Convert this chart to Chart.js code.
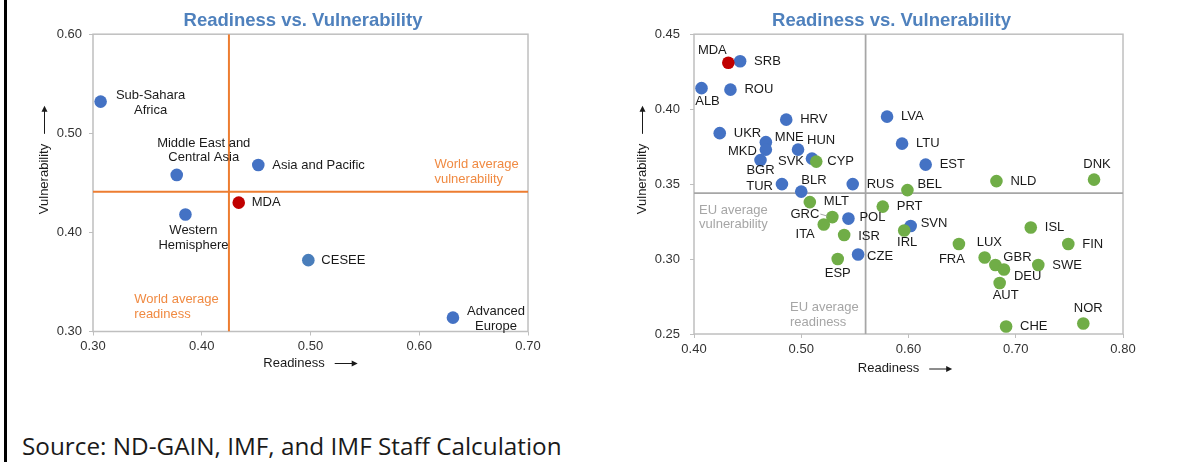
<!DOCTYPE html>
<html>
<head>
<meta charset="utf-8">
<script src="https://cdn.jsdelivr.net/npm/chart.js@4.4.0/dist/chart.umd.min.js"></script>
<style>
  body { margin: 0; background: #fff; }
  #page { position: relative; width: 1194px; height: 462px; overflow: hidden; }
  #rule { position: absolute; left: 4px; top: 0; width: 3px; height: 462px; background: #000; }
  #left-wrap { position: absolute; left: 6px; top: 0; }
  #right-wrap { position: absolute; left: 594px; top: 0; }
  #source { position: absolute; left: 22px; top: 429px; font: 24.3px "Open Sans", sans-serif; color: #1a1a1a; white-space: nowrap; }
</style>
</head>
<body>
<div id="page">
  <div id="rule"></div>
  <div id="left-wrap"><canvas id="left" width="594" height="380"></canvas></div>
  <div id="right-wrap"><canvas id="right" width="595" height="380"></canvas></div>
  <div id="source">Source: ND-GAIN, IMF, and IMF Staff Calculation</div>
</div>
<script>
// left chart: regions
const regionNames = ["Sub-Sahara Africa", "Middle East and Central Asia", "Asia and Pacific", "Western Hemisphere", "Advanced Europe"];
const regionReadiness = [0.307, 0.377, 0.452, 0.385, 0.631];
const regionVulnerability = [0.532, 0.458, 0.468, 0.418, 0.314];
const ceseeReadiness = [0.498];
const ceseeVulnerability = [0.372];
const mdaRegionReadiness = [0.434];
const mdaRegionVulnerability = [0.430];
const worldAvgReadiness = 0.425;
const worldAvgVulnerability = 0.441;
const leftXTicks = [0.30, 0.40, 0.50, 0.60, 0.70];
const leftYTicks = [0.30, 0.40, 0.50, 0.60];

// right chart: countries
const ceseeCodes = ["SRB", "ALB", "ROU", "HRV", "LVA", "UKR", "MNE", "MKD", "HUN", "LTU", "SVK", "BGR", "EST", "TUR", "RUS", "BLR", "POL", "SVN", "CZE"];
const ceseeCountryReadiness = [0.443, 0.407, 0.434, 0.486, 0.580, 0.424, 0.467, 0.467, 0.497, 0.594, 0.510, 0.462, 0.616, 0.482, 0.548, 0.500, 0.544, 0.602, 0.553];
const ceseeCountryVulnerability = [0.432, 0.414, 0.413, 0.393, 0.395, 0.384, 0.378, 0.373, 0.373, 0.377, 0.367, 0.366, 0.363, 0.350, 0.350, 0.345, 0.327, 0.322, 0.303];
const otherCodes = ["CYP", "DNK", "NLD", "BEL", "MLT", "PRT", "GRC", "ITA", "IRL", "ISL", "ISR", "FRA", "FIN", "LUX", "ESP", "GBR", "SWE", "DEU", "AUT", "NOR", "CHE"];
const otherReadiness = [0.514, 0.773, 0.682, 0.599, 0.508, 0.576, 0.529, 0.521, 0.596, 0.714, 0.540, 0.647, 0.749, 0.671, 0.534, 0.681, 0.721, 0.689, 0.685, 0.763, 0.691];
const otherVulnerability = [0.365, 0.353, 0.352, 0.346, 0.338, 0.335, 0.328, 0.323, 0.319, 0.321, 0.316, 0.310, 0.310, 0.301, 0.300, 0.296, 0.296, 0.293, 0.284, 0.257, 0.255];
const mdaReadiness = [0.432];
const mdaVulnerability = [0.431];
const euAvgReadiness = 0.560;
const euAvgVulnerability = 0.344;
const rightXTicks = [0.40, 0.50, 0.60, 0.70, 0.80];
const rightYTicks = [0.25, 0.30, 0.35, 0.40, 0.45];

const FONT = "'Liberation Sans', Arial, 'DejaVu Sans', sans-serif";
const BLUE = "#4472C4";
const GREEN = "#70AD47";
const RED = "#C00000";
const INK = "#1a1a1a";

const pts = (xs, ys) => xs.map((x, i) => ({ x: x, y: ys[i] }));

// plot frame around the chart area
const frame = {
  id: "frame",
  beforeDatasetsDraw(chart) {
    const { ctx, chartArea: a } = chart;
    ctx.save();
    ctx.strokeStyle = "#BFBFBF";
    ctx.lineWidth = 1.5;
    ctx.strokeRect(a.left, a.top, a.right - a.left, a.bottom - a.top);
    ctx.restore();
  }
};

// names next to the points
const pointLabels = {
  id: "pointLabels",
  afterDatasetsDraw(chart, args, opts) {
    const ctx = chart.ctx;
    ctx.save();
    ctx.font = "13px " + FONT;
    ctx.textBaseline = "middle";
    chart.data.datasets.forEach((ds, di) => {
      if (!ds.names) return;
      const meta = chart.getDatasetMeta(di);
      ds.names.forEach((name, i) => {
        const p = meta.data[i];
        const spot = opts.spots[name] || [14, 0, "left"];
        const lines = (opts.lines && opts.lines[name]) || [name];
        const lead = opts.leaders && opts.leaders[name];
        if (lead) {
          ctx.strokeStyle = "#A6A6A6";
          ctx.lineWidth = 1;
          ctx.beginPath();
          ctx.moveTo(p.x + lead[0], p.y + lead[1]);
          ctx.lineTo(p.x + lead[2], p.y + lead[3]);
          ctx.stroke();
        }
        ctx.fillStyle = INK;
        ctx.textAlign = spot[2] || "left";
        lines.forEach((line, k) => ctx.fillText(line, p.x + spot[0], p.y + spot[1] + k * 14.5));
      });
    });
    ctx.restore();
  }
};

// text followed by a long arrow, centred on (cx, cy) in the current frame
function arrowTitle(ctx, text, cx, cy, len) {
  const gap = 10;
  const tw = ctx.measureText(text).width;
  const x0 = cx - (tw + gap + len) / 2;
  ctx.textAlign = "left";
  ctx.fillText(text, x0, cy);
  const ax = x0 + tw + gap;
  const ay = cy + 0.5;
  ctx.beginPath();
  ctx.moveTo(ax, ay);
  ctx.lineTo(ax + len - 4, ay);
  ctx.stroke();
  ctx.beginPath();
  ctx.moveTo(ax + len, ay);
  ctx.lineTo(ax + len - 6, ay - 3);
  ctx.lineTo(ax + len - 6, ay + 3);
  ctx.closePath();
  ctx.fill();
}

// average-line notes and the axis titles
const notes = {
  id: "notes",
  afterDraw(chart, args, opts) {
    const { ctx, scales, chartArea: a } = chart;
    ctx.save();
    ctx.font = "13px " + FONT;
    ctx.textBaseline = "middle";
    ctx.textAlign = "left";
    opts.items.forEach(n => {
      ctx.fillStyle = n.color;
      const x = scales.x.getPixelForValue(n.at[0]);
      const y = scales.y.getPixelForValue(n.at[1]) + n.dy;
      n.lines.forEach((line, k) => ctx.fillText(line, x, y + k * 14.5));
    });
    ctx.fillStyle = INK;
    ctx.strokeStyle = INK;
    ctx.lineWidth = 1;
    arrowTitle(ctx, "Readiness", (a.left + a.right) / 2 + opts.xTitle.dx, opts.xTitle.y, 23);
    ctx.translate(opts.yTitle.x, opts.yTitle.y);
    ctx.rotate(-Math.PI / 2);
    arrowTitle(ctx, "Vulnerability", 0, 0, 28);
    ctx.restore();
  }
};

function axis(ticks, width, height, tickPad) {
  const a = {
    type: "linear",
    min: ticks[0],
    max: ticks[ticks.length - 1],
    afterBuildTicks: s => { s.ticks = ticks.map(v => ({ value: v })); },
    ticks: { font: { family: FONT, size: 13 }, color: "#333", padding: tickPad, callback: v => v.toFixed(2) },
    grid: { drawOnChartArea: false, tickLength: 4, color: "#BFBFBF" },
    border: { display: false }
  };
  if (width) a.afterFit = s => { s.width = width; };
  if (height) a.afterFit = s => { s.height = height; };
  return a;
}

// empty right-hand axis that only reserves the blank strip right of the plot
function spacer(width) {
  return {
    position: "right",
    grid: { display: false },
    ticks: { display: false },
    border: { display: false },
    afterFit: s => { s.width = width; }
  };
}

const titleOpts = {
  display: true,
  text: "Readiness vs. Vulnerability",
  color: "#4F81BD",
  font: { family: FONT, size: 18.5, weight: "bold" },
  padding: { top: 10, bottom: 2 }
};

const dot = { pointRadius: 6.3, borderWidth: 0, pointHoverRadius: 6.3 };

new Chart(document.getElementById("left"), {
  type: "scatter",
  data: {
    datasets: [
      { label: "MDA", names: ["MDA"], data: pts(mdaRegionReadiness, mdaRegionVulnerability), backgroundColor: RED, order: 0, ...dot },
      { label: "CESEE", names: ["CESEE"], data: pts(ceseeReadiness, ceseeVulnerability), backgroundColor: "#4A7EBB", order: 1, ...dot },
      { label: "Regions", names: regionNames, data: pts(regionReadiness, regionVulnerability), backgroundColor: BLUE, order: 2, ...dot },
      { label: "World average readiness", data: [{ x: worldAvgReadiness, y: leftYTicks[0] }, { x: worldAvgReadiness, y: leftYTicks[3] }],
        showLine: true, borderColor: "#ED7D31", borderWidth: 2, pointRadius: 0, order: 3 },
      { label: "World average vulnerability", data: [{ x: leftXTicks[0], y: worldAvgVulnerability }, { x: leftXTicks[4], y: worldAvgVulnerability }],
        showLine: true, borderColor: "#ED7D31", borderWidth: 2, pointRadius: 0, order: 3 }
    ]
  },
  options: {
    responsive: false,
    animation: false,
    layout: { padding: 0 },
    plugins: {
      legend: { display: false },
      tooltip: { enabled: false },
      title: titleOpts,
      pointLabels: {
        spots: {
          "Sub-Sahara Africa": [50, -6, "center"],
          "Middle East and Central Asia": [27, -32, "center"],
          "Asia and Pacific": [14, 0, "left"],
          "MDA": [13, 0, "left"],
          "Western Hemisphere": [8, 16, "center"],
          "CESEE": [13, 0, "left"],
          "Advanced Europe": [43, -6, "center"]
        },
        lines: {
          "Sub-Sahara Africa": ["Sub-Sahara", "Africa"],
          "Middle East and Central Asia": ["Middle East and", "Central Asia"],
          "Western Hemisphere": ["Western", "Hemisphere"],
          "Advanced Europe": ["Advanced", "Europe"]
        }
      },
      notes: {
        items: [
          { lines: ["World average", "vulnerability"], at: [0.614, worldAvgVulnerability], dy: -27, color: "#F08A42" },
          { lines: ["World average", "readiness"], at: [0.338, leftYTicks[0]], dy: -32, color: "#F08A42" }
        ],
        xTitle: { dx: 0, y: 363 },
        yTitle: { x: 38, y: 160 }
      }
    },
    scales: {
      x: axis(leftXTicks, 0, 48.5, 3),
      y: axis(leftYTicks, 87, 0, 7),
      pad: spacer(72)
    }
  },
  plugins: [frame, pointLabels, notes]
});

new Chart(document.getElementById("right"), {
  type: "scatter",
  data: {
    datasets: [
      { label: "MDA", names: ["MDA"], data: pts(mdaReadiness, mdaVulnerability), backgroundColor: RED, order: 0, ...dot },
      { label: "Other Europe", names: otherCodes, data: pts(otherReadiness, otherVulnerability), backgroundColor: GREEN, order: 1, ...dot },
      { label: "CESEE", names: ceseeCodes, data: pts(ceseeCountryReadiness, ceseeCountryVulnerability), backgroundColor: BLUE, order: 2, ...dot },
      { label: "EU average readiness", data: [{ x: euAvgReadiness, y: rightYTicks[0] }, { x: euAvgReadiness, y: rightYTicks[4] }],
        showLine: true, borderColor: "#A6A6A6", borderWidth: 1.75, pointRadius: 0, order: 3 },
      { label: "EU average vulnerability", data: [{ x: rightXTicks[0], y: euAvgVulnerability }, { x: rightXTicks[4], y: euAvgVulnerability }],
        showLine: true, borderColor: "#A6A6A6", borderWidth: 1.75, pointRadius: 0, order: 3 }
    ]
  },
  options: {
    responsive: false,
    animation: false,
    layout: { padding: 0 },
    plugins: {
      legend: { display: false },
      tooltip: { enabled: false },
      title: titleOpts,
      pointLabels: {
        spots: {
          MDA: [-16, -12, "center"], ALB: [6, 13, "center"], MNE: [9, -5, "left"], MKD: [-9, 2, "right"],
          HUN: [9, -9, "left"], SVK: [-8, 3, "right"], CYP: [11, 0, "left"], BGR: [0, 10, "center"],
          DNK: [3, -15, "center"], TUR: [-9, 2, "right"], BEL: [10, -6, "left"], BLR: [0, -11, "left"],
          MLT: [14, -1, "left"], GRC: [-13, -3, "right"], POL: [11, -1, "left"], ITA: [-9, 10, "right"],
          SVN: [10, -3, "left"], IRL: [3, 12, "center"], ISR: [14, 1, "left"], FRA: [-7, 15, "center"],
          LUX: [-8, -15, "left"], CZE: [9, 2, "left"], ESP: [0, 14, "center"], GBR: [8, -8, "left"],
          DEU: [10, 7, "left"], AUT: [6, 12, "center"], NOR: [5, -15, "center"]
        },
        leaders: { GRC: [-12, -3, -5, -1] }
      },
      notes: {
        items: [
          { lines: ["EU average", "vulnerability"], at: [0.4047, euAvgVulnerability], dy: 17, color: "#A6A6A6" },
          { lines: ["EU average", "readiness"], at: [0.4895, rightYTicks[0]], dy: -26.5, color: "#A6A6A6" }
        ],
        xTitle: { dx: -3.5, y: 368.5 },
        yTitle: { x: 48, y: 160 }
      }
    },
    scales: {
      x: axis(rightXTicks, 0, 46, 4),
      y: axis(rightYTicks, 100, 0, 10),
      pad: spacer(66)
    }
  },
  plugins: [frame, pointLabels, notes]
});
</script>
</body>
</html>
